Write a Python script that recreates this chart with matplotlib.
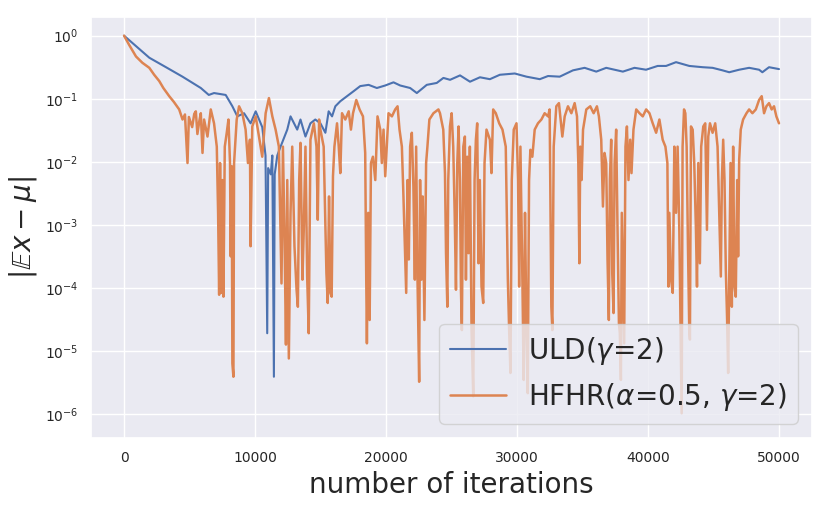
import numpy as np
import matplotlib
matplotlib.use('Agg')
import matplotlib.pyplot as plt
import seaborn as sns

# ULD(gamma=2): iteration and log10 |E x - mu|
uld_iter = [0, 1930, 3200, 4460, 5860, 6470, 6870, 7760, 8270, 8650, 9160,
            9660, 10050, 10550, 10800, 10930, 11000, 11200, 11320, 11440,
            11500, 11700, 11950, 12460, 12710, 13220, 13470, 13850, 14230,
            14600, 14990, 15370, 15620, 15880, 16130, 16510, 17020, 17530,
            18030, 18670, 19300, 19940, 20570, 21080, 21840, 22350, 23110,
            23870, 24380, 24890, 25650, 26410, 27170, 27930, 28690, 29830,
            30720, 31740, 32370, 33260, 34270, 35160, 36050, 36810, 38080,
            38970, 39850, 40740, 41380, 42140, 43150, 44170, 44930, 45690,
            46200, 46960, 47720, 48480, 48730, 49240, 50000]
uld_log10 = [0.0, -0.35, -0.50, -0.65, -0.83, -0.94, -0.91, -0.94, -1.12,
             -1.28, -1.23, -1.39, -1.20, -1.45, -1.90, -4.72, -2.10, -2.20,
             -1.90, -5.41, -2.20, -1.90, -1.76, -1.49, -1.28, -1.49, -1.33,
             -1.60, -1.39, -1.33, -1.39, -1.54, -1.20, -1.28, -1.12, -1.04,
             -0.96, -0.88, -0.80, -0.78, -0.83, -0.79, -0.74, -0.79, -0.83,
             -0.91, -0.78, -0.75, -0.67, -0.70, -0.63, -0.73, -0.66, -0.69,
             -0.62, -0.60, -0.65, -0.69, -0.64, -0.65, -0.55, -0.51, -0.57,
             -0.51, -0.57, -0.51, -0.54, -0.48, -0.48, -0.42, -0.48, -0.50,
             -0.51, -0.55, -0.58, -0.54, -0.51, -0.54, -0.58, -0.50, -0.53]

# HFHR(alpha=0.5, gamma=2)
hfhr_iter = [
    0, 400, 913, 1400, 1928, 2300, 2688, 3000, 3450, 3800, 4210, 4465, 4650,
    4845, 4950, 5200, 5360, 5480, 5600, 5750,
    5860, 5990, 6110, 6370, 6620, 6870, 7080, 7180, 7260, 7330, 7430, 7510,
    7590, 7690, 7840, 7970, 8090, 8140, 8220, 8270, 8350, 8400, 8600, 8780,
    9030, 9280, 9460, 9610, 9660, 9790, 10050, 10300, 10550, 10810, 11060,
    11320, 11570, 11820, 11950, 12020, 12130, 12250, 12360, 12460, 12580,
    12710, 12840, 13010, 13170, 13270, 13370, 13470, 13620, 13720, 13850,
    13980, 14100, 14230, 14490, 14690, 14790, 14890,
    14990, 15240, 15370, 15450, 15550, 15650, 15750, 15850, 15950, 16060,
    16260, 16390, 16510, 16640, 16890, 17150, 17320, 17480, 17730, 17980,
    18240, 18410, 18490, 18540, 18640, 18750, 18850, 19000, 19180, 19350,
    19560, 19680, 19810, 19940, 20190, 20450, 20700, 20880, 21030, 21210,
    21330, 21460, 21540, 21640, 21740, 21840, 21970, 22090, 22200, 22300,
    22400, 22530, 22600, 22700, 22800, 22930, 23060, 23160, 23310, 23620,
    24000,
    24120, 24370, 24500, 24580, 24680, 24750, 24880, 25010, 25130, 25240,
    25340, 25440, 25540, 25640, 25720, 25790, 25900, 26020, 26100, 26200,
    26300, 26400, 26530, 26660, 26760, 26860, 26960, 27060, 27160, 27290,
    27420, 27520, 27670, 27930, 28050, 28180, 28380, 28640, 28890, 29140,
    29300, 29400, 29500, 29600, 29750, 29960, 30080, 30160, 30260, 30410,
    30510, 30610, 30720, 30820, 30920, 31020, 31170, 31350, 31600, 31860,
    32110, 32370, 32490, 32620, 32700, 32800, 33000, 33200,
    33460, 33640, 33890, 34150, 34400, 34580, 34680, 34760, 34830, 34930,
    35040, 35290, 35590, 35850, 36100, 36250, 36430, 36560, 36680, 36810,
    36910, 37010, 37090, 37190, 37270, 37370, 37450, 37570, 37670, 37780,
    37850, 37930, 38000, 38110, 38180, 38280, 38390, 38510, 38640, 38740,
    38890, 39100, 39350, 39600, 39860, 40110, 40360, 40620, 40870, 41120,
    41330, 41480, 41560, 41630, 41760, 41890,
    42010, 42140, 42260, 42390, 42490, 42570, 42640, 42750, 42850, 42950,
    43050, 43150, 43200, 43280, 43410, 43530, 43660, 43740, 43840, 43960,
    44060, 44220, 44370, 44500, 44600, 44730, 44930, 45130, 45310, 45440,
    45560, 45640, 45740, 45840, 45940, 46040, 46120, 46200, 46300, 46400,
    46500, 46600, 46700, 46810, 46880, 46960, 47080, 47260, 47520, 47720,
    47970, 48230, 48480, 48680, 48860, 49040, 49240, 49440, 49620, 49800,
    50000]
hfhr_log10 = [
    0.0, -0.15, -0.33, -0.43, -0.51, -0.62, -0.72, -0.83, -0.96, -1.05,
    -1.17, -1.33, -1.25, -2.02, -1.29, -1.45, -1.24, -1.20, -1.56, -1.35,
    -1.23, -1.86, -1.33, -1.60, -1.17, -1.39, -1.76, -2.81, -4.11, -2.02,
    -4.08, -2.29, -4.14, -1.76, -1.54, -1.33, -2.02, -3.50, -2.07, -5.20,
    -5.41, -2.02, -1.33, -1.12, -1.23, -1.49, -2.02, -1.65, -3.34, -1.44,
    -1.28, -1.60, -1.92, -1.23, -0.99, -1.28, -1.49, -1.76, -3.18, -3.93,
    -1.76, -3.18, -4.90, -2.29, -5.12, -2.81, -1.76, -3.34, -4.03, -4.30,
    -2.29, -1.70, -3.87, -3.08, -1.76, -3.82, -4.72, -1.65, -1.39, -1.76,
    -2.92, -1.33,
    -1.49, -1.76, -3.03, -3.77, -4.24, -2.55, -4.08, -4.14, -2.23, -1.76,
    -1.39, -1.76, -2.18, -1.23, -1.33, -1.20, -1.49, -1.23, -1.02, -1.17,
    -1.28, -1.86, -3.87, -4.88, -2.81, -4.51, -2.02, -1.92, -2.29, -1.28,
    -1.49, -2.02, -1.49, -2.23, -1.23, -1.28, -1.17, -1.12, -1.49, -1.76,
    -2.55, -3.50, -4.08, -2.29, -3.55, -1.76, -1.54, -2.39, -3.87, -1.76,
    -3.82, -5.49, -2.29, -3.87, -2.55, -4.51, -2.02, -1.76, -1.33, -1.23,
    -1.17,
    -1.23, -1.49, -2.18, -3.45, -4.30, -2.29, -1.44, -1.23, -1.76, -2.81,
    -4.03, -2.02, -1.44, -2.29, -4.03, -4.67, -1.76, -1.60, -3.87, -1.92,
    -3.45, -1.76, -4.67, -5.72, -2.29, -1.65, -1.39, -3.61, -2.29, -3.98,
    -4.24, -2.02, -1.49, -1.65, -2.18, -1.17, -1.23, -1.39, -1.49, -1.76,
    -3.87, -4.67, -5.35, -2.29, -1.49, -1.39, -2.29, -3.98, -1.76, -3.87,
    -5.46, -2.81, -4.67, -5.67, -2.29, -1.81, -1.92, -1.49, -1.39, -1.33,
    -1.23, -1.28, -1.17, -4.30, -4.67, -1.76, -1.12, -1.07,
    -1.60, -1.28, -1.12, -1.23, -1.07, -1.28, -2.02, -3.61, -1.76, -2.29,
    -1.49, -1.17, -1.12, -1.23, -1.12, -1.28, -1.65, -2.71, -1.86, -2.02,
    -3.55, -4.51, -2.29, -1.65, -3.77, -4.40, -2.02, -1.49, -3.03, -4.56,
    -4.72, -5.46, -2.81, -4.08, -4.88, -1.76, -1.44, -2.29, -1.65, -2.18,
    -1.49, -1.17, -1.23, -1.28, -1.17, -1.23, -1.39, -1.54, -1.33, -1.65,
    -1.76, -2.02, -3.98, -2.81, -3.87, -4.08,
    -1.76, -2.81, -1.76, -3.08, -4.67, -5.99, -1.76, -1.17, -1.23, -1.76,
    -3.34, -4.67, -4.82, -1.44, -1.49, -2.02, -3.08, -3.98, -2.02, -3.61,
    -1.76, -1.44, -1.39, -3.08, -1.60, -1.39, -1.54, -1.39, -1.76, -2.81,
    -3.82, -2.29, -1.65, -2.29, -3.71, -4.51, -5.35, -3.87, -2.02, -4.30,
    -1.76, -3.98, -4.14, -2.29, -3.50, -1.97, -1.49, -1.33, -1.23, -1.17,
    -1.23, -1.17, -1.02, -0.96, -1.23, -1.12, -1.07, -1.17, -1.12, -1.28,
    -1.39]

sns.set_theme(style='darkgrid')

fig = plt.figure(figsize=(8.3, 5.08), dpi=100)
ax = fig.add_axes([0.110, 0.138, 0.868, 0.829])

ax.plot(uld_iter, np.power(10.0, uld_log10), label=r'ULD($\gamma$=2)')
ax.plot(hfhr_iter, np.power(10.0, hfhr_log10), lw=1.8,
        label=r'HFHR($\alpha$=0.5, $\gamma$=2)')

ax.set_yscale('log')
ax.set_xlim(-2500, 52500)
ax.set_ylim(10 ** -6.38, 10 ** 0.30)
ax.set_yticks([1e0, 1e-1, 1e-2, 1e-3, 1e-4, 1e-5, 1e-6])
ax.set_xticks([0, 10000, 20000, 30000, 40000, 50000])
ax.tick_params(labelsize=10)

ax.set_xlabel('number of iterations', fontsize=20)
ax.set_ylabel(r'$|\mathbb{E}x - \mu|$', fontsize=20)
ax.legend(loc='lower right', fontsize=20)

fig.savefig('out.png', dpi=100)
